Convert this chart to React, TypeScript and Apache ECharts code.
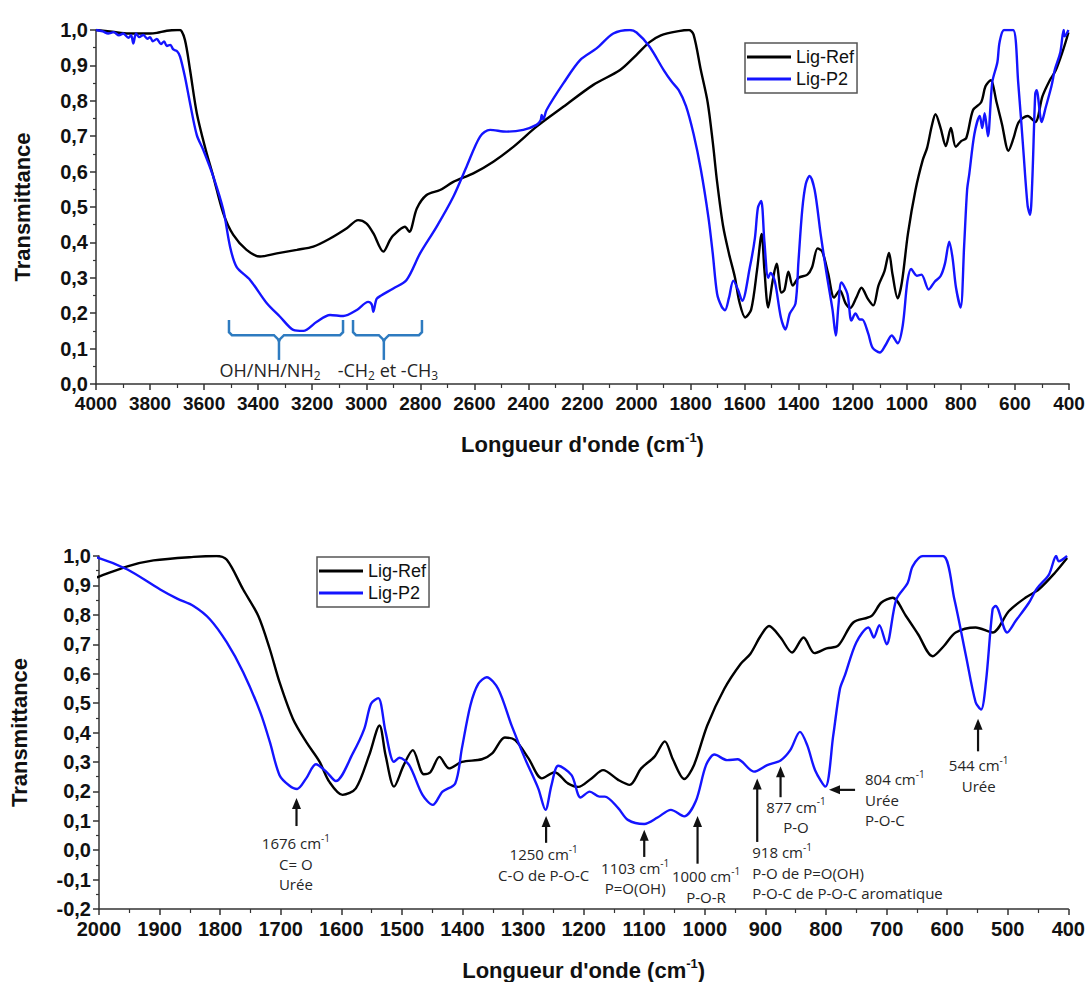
import React, { useEffect, useRef } from 'react';
import * as echarts from 'echarts';

const SERIES_NAMES = ['Lig-Ref', 'Lig-P2'];
const SERIES_COLORS = ['#000000', '#1414ff'];

const refWavenumbers = [4000, 3940, 3880, 3837, 3800, 3775, 3738, 3700, 3689, 3671, 3652, 3627, 3597, 3566, 3529, 3492, 3443, 3393, 3331, 3257, 3196, 3134, 3072, 3030, 3000, 2974, 2937, 2912, 2900, 2857, 2841, 2813, 2777, 2727, 2678, 2604, 2530, 2456, 2370, 2271, 2160, 2061, 2000, 1953, 1910, 1844, 1806, 1789, 1762, 1737, 1718, 1702, 1680, 1658, 1636, 1620, 1598, 1576, 1554, 1537, 1527, 1513, 1497, 1482, 1464, 1453, 1438, 1422, 1401, 1368, 1351, 1330, 1313, 1291, 1269, 1248, 1226, 1209, 1187, 1168, 1143, 1124, 1105, 1083, 1066, 1053, 1034, 1018, 996, 968, 941, 925, 908, 894, 875, 856, 837, 819, 799, 780, 755, 725, 709, 690, 668, 648, 624, 605, 586, 553, 525, 498, 471, 449, 422, 402];
const refValues = [1.0, 0.995, 0.99, 0.99, 0.99, 0.992, 0.998, 1.0, 1.0, 0.972, 0.887, 0.765, 0.67, 0.586, 0.482, 0.421, 0.379, 0.36, 0.369, 0.379, 0.388, 0.411, 0.44, 0.463, 0.454, 0.426, 0.374, 0.407, 0.42, 0.444, 0.43, 0.496, 0.534, 0.548, 0.571, 0.595, 0.628, 0.67, 0.727, 0.783, 0.845, 0.887, 0.93, 0.965, 0.985, 0.997, 1.0, 0.987, 0.886, 0.796, 0.683, 0.571, 0.447, 0.368, 0.301, 0.233, 0.188, 0.21, 0.323, 0.424, 0.323, 0.216, 0.289, 0.34, 0.258, 0.265, 0.317, 0.278, 0.3, 0.309, 0.329, 0.383, 0.374, 0.312, 0.244, 0.265, 0.227, 0.215, 0.244, 0.272, 0.239, 0.222, 0.278, 0.318, 0.37, 0.31, 0.242, 0.289, 0.424, 0.548, 0.633, 0.667, 0.728, 0.762, 0.723, 0.672, 0.723, 0.67, 0.686, 0.695, 0.774, 0.796, 0.841, 0.858, 0.796, 0.734, 0.659, 0.695, 0.74, 0.757, 0.74, 0.813, 0.858, 0.886, 0.943, 0.993];

const p2Wavenumbers = [4000, 3975, 3955, 3935, 3915, 3899, 3880, 3870, 3862, 3852, 3840, 3825, 3810, 3800, 3790, 3775, 3760, 3748, 3738, 3725, 3714, 3700, 3689, 3671, 3652, 3627, 3603, 3566, 3529, 3504, 3480, 3430, 3368, 3319, 3270, 3233, 3183, 3134, 3085, 3035, 2993, 2980, 2974, 2962, 2945, 2900, 2851, 2801, 2740, 2678, 2629, 2579, 2542, 2481, 2419, 2370, 2355, 2351, 2345, 2333, 2271, 2209, 2148, 2086, 2025, 2000, 1953, 1899, 1871, 1844, 1817, 1789, 1762, 1734, 1718, 1702, 1686, 1673, 1658, 1642, 1625, 1609, 1581, 1562, 1551, 1539, 1527, 1513, 1504, 1488, 1466, 1449, 1433, 1412, 1401, 1387, 1374, 1360, 1341, 1319, 1297, 1275, 1263, 1253, 1242, 1220, 1205, 1190, 1174, 1165, 1143, 1127, 1100, 1078, 1056, 1034, 1015, 998, 984, 963, 946, 919, 897, 875, 859, 843, 831, 818, 801, 788, 777, 769, 750, 730, 721, 712, 700, 684, 665, 657, 640, 607, 588, 569, 553, 544, 536, 525, 520, 501, 487, 465, 452, 432, 420, 416, 402];
const p2Values = [1.0, 0.996, 0.99, 0.994, 0.985, 0.99, 0.978, 0.985, 0.962, 0.99, 0.98, 0.986, 0.975, 0.98, 0.968, 0.975, 0.96, 0.968, 0.955, 0.958, 0.945, 0.94, 0.925, 0.868, 0.793, 0.703, 0.661, 0.586, 0.492, 0.388, 0.331, 0.294, 0.228, 0.19, 0.153, 0.15, 0.176, 0.195, 0.192, 0.209, 0.232, 0.225, 0.204, 0.24, 0.25, 0.27, 0.294, 0.369, 0.444, 0.529, 0.614, 0.699, 0.718, 0.713, 0.718, 0.732, 0.745, 0.76, 0.748, 0.774, 0.849, 0.915, 0.948, 0.99, 1.0, 0.993, 0.954, 0.886, 0.855, 0.83, 0.785, 0.706, 0.605, 0.47, 0.368, 0.255, 0.22, 0.208, 0.244, 0.292, 0.267, 0.235, 0.329, 0.413, 0.498, 0.517, 0.402, 0.3, 0.314, 0.289, 0.188, 0.154, 0.199, 0.227, 0.346, 0.492, 0.565, 0.588, 0.548, 0.424, 0.312, 0.21, 0.137, 0.222, 0.287, 0.255, 0.179, 0.199, 0.182, 0.182, 0.143, 0.103, 0.089, 0.111, 0.137, 0.115, 0.166, 0.289, 0.325, 0.306, 0.309, 0.267, 0.289, 0.305, 0.34, 0.402, 0.357, 0.272, 0.216, 0.39, 0.548, 0.593, 0.706, 0.757, 0.723, 0.765, 0.7, 0.852, 0.909, 0.965, 1.0, 1.0, 0.852, 0.661, 0.503, 0.478, 0.571, 0.819, 0.83, 0.74, 0.779, 0.841, 0.889, 0.937, 1.0, 0.982, 1.0];

// Bottom-panel peak annotations (wavenumber, arrow tip/tail transmittance, label anchor)
const arrowNotes = [
  { x: 1674, tip: 0.177, tail: 0.082, lx: 1675, ly: 0.058, align: 'center', lines: ['1676 cm{s|-1}', 'C= O', 'Urée'] },
  { x: 1262, tip: 0.116, tail: 0.025, lx: 1266, ly: 0.021, align: 'center', lines: ['1250 cm{s|-1}', 'C-O de P-O-C'] },
  { x: 1100, tip: 0.069, tail: -0.023, lx: 1115, ly: -0.025, align: 'center', lines: ['1103 cm{s|-1}', 'P=O(OH)'] },
  { x: 1012, tip: 0.116, tail: -0.046, lx: 998, ly: -0.053, align: 'center', lines: ['1000 cm{s|-1}', 'P-O-R'] },
  { x: 913.5, tip: 0.244, tail: 0.028, lx: 921.7, ly: 0.028, align: 'left', lines: ['918 cm{s|-1}', 'P-O de P=O(OH)', 'P-O-C de P-O-C aromatique'] },
  { x: 875, tip: 0.285, tail: 0.18, lx: 849.5, ly: 0.183, align: 'center', lines: ['877 cm{s|-1}', 'P-O'] },
  { x: 549, tip: 0.447, tail: 0.336, lx: 548, ly: 0.323, align: 'center', lines: ['544 cm{s|-1}', 'Urée'] },
];
const sideNote = { tipX: 795, tailX: 752, y: 0.205, lx: 735.6, ly: 0.276, lines: ['804 cm{s|-1}', 'Urée', 'P-O-C'] };

// Top-panel bracket annotations
const brackets = [
  { x1: 3508, x2: 3086, xc: 3323, label: 'OH/NH/NH{s|2}', lx: 3356 },
  { x1: 3049, x2: 2794, xc: 2935, label: '-CH{s|2} et -CH{s|3}', lx: 2920 },
];
const bracketY = { top: 0.181, mid: 0.138, bottom: 0.068, label: 0.04 };

const AXIS_FONT = 'Arial, "Liberation Sans", sans-serif';
const NOTE_FONT = '"Open Sans", "Noto Sans", sans-serif';

const fmtY = (v: number) => v.toFixed(1).replace('.', ',');
const fmtX = (v: number) => String(Math.round(v));

function makeXAxis(gridIndex: number, min: number, max: number, interval: number, labelSize: number, gap: number) {
  return {
    type: 'value', gridIndex, min, max, interval, inverse: true,
    name: "{a|Longueur d'onde (cm}{s|-1}{a|)}",
    nameLocation: 'middle', nameGap: gap,
    nameTextStyle: {
      rich: {
        a: { fontSize: 22, fontWeight: 'bold', fontFamily: AXIS_FONT, color: '#111', lineHeight: 26 },
        s: { fontSize: 13, fontWeight: 'bold', fontFamily: AXIS_FONT, color: '#111', verticalAlign: 'top', lineHeight: 14 },
      },
    },
    axisLine: { show: true, onZero: false, lineStyle: { color: '#333', width: 1.5 } },
    axisTick: { show: true, length: 6, lineStyle: { color: '#333', width: 1.5 } },
    minorTick: { show: true, splitNumber: 2, length: 4, lineStyle: { color: '#333', width: 1.2 } },
    axisLabel: { fontSize: labelSize, fontWeight: 'bold', fontFamily: AXIS_FONT, color: '#111', margin: 10, formatter: fmtX },
    splitLine: { show: false },
  };
}

function makeYAxis(gridIndex: number, min: number, gap: number) {
  return {
    type: 'value', gridIndex, min, max: 1, interval: 0.1,
    name: 'Transmittance', nameLocation: 'middle', nameGap: gap,
    nameTextStyle: { fontSize: 22, fontWeight: 'bold', fontFamily: AXIS_FONT, color: '#111' },
    axisLine: { show: true, onZero: false, lineStyle: { color: '#333', width: 1.5 } },
    axisTick: { show: true, length: 6, lineStyle: { color: '#333', width: 1.5 } },
    minorTick: { show: true, splitNumber: 2, length: 3, lineStyle: { color: '#333', width: 1.2 } },
    axisLabel: { fontSize: 20, fontWeight: 'bold', fontFamily: AXIS_FONT, color: '#111', margin: 8, formatter: fmtY },
    splitLine: { show: false },
  };
}

function makeLegend(left: number, top: number) {
  return {
    data: SERIES_NAMES, orient: 'vertical', left, top,
    itemWidth: 44, itemHeight: 3, itemGap: 4, icon: 'rect',
    padding: [5, 3, 5, 2], borderColor: '#555', borderWidth: 1.5,
    textStyle: { fontSize: 18, fontFamily: AXIS_FONT, color: '#111' },
    selectedMode: false,
  };
}

export default function App() {
  const ref = useRef<HTMLDivElement>(null);
  useEffect(() => {
    document.body.style.margin = '0';
    const chart = echarts.init(ref.current!, null, { renderer: 'svg' });
    const refData = refWavenumbers.map((w, i) => [w, refValues[i]]);
    const p2Data = p2Wavenumbers.map((w, i) => [w, p2Values[i]]);
    const mkSeries = (name: string, data: number[][], color: string, g: number) => ({
      type: 'line', name, data, xAxisIndex: g, yAxisIndex: g,
      showSymbol: false, symbol: 'none', smooth: 0.3, clip: true,
      lineStyle: { color, width: 2.4 }, itemStyle: { color },
    });
    chart.setOption({
      animation: false,
      textStyle: { fontFamily: AXIS_FONT },
      grid: [
        { left: 96, right: 19, top: 30, height: 354 },
        { left: 95, right: 19, top: 556, height: 355 },
      ],
      xAxis: [makeXAxis(0, 400, 4000, 200, 19, 47), makeXAxis(1, 400, 2000, 100, 20, 48)],
      yAxis: [makeYAxis(0, 0, 63), makeYAxis(1, -0.2, 69)],
      legend: [makeLegend(745, 43), makeLegend(317, 557)],
      series: [
        mkSeries(SERIES_NAMES[0], refData, SERIES_COLORS[0], 0),
        mkSeries(SERIES_NAMES[1], p2Data, SERIES_COLORS[1], 0),
        mkSeries(SERIES_NAMES[0], refData, SERIES_COLORS[0], 1),
        mkSeries(SERIES_NAMES[1], p2Data, SERIES_COLORS[1], 1),
      ],
    });

    const px = (g: number, x: number, y: number) => chart.convertToPixel({ gridIndex: g }, [x, y]) as number[];
    const els: any[] = [];
    const noteRich = {
      s: { fontSize: 10, fontFamily: NOTE_FONT, fill: '#262626', verticalAlign: 'top', lineHeight: 10 },
    };
    const arrowHead = (tx: number, ty: number, dir: 'up' | 'left') => {
      const L = 11, W = 4.5;
      const pts = dir === 'up'
        ? [[tx, ty], [tx - W, ty + L], [tx + W, ty + L]]
        : [[tx, ty], [tx + L, ty - W], [tx + L, ty + W]];
      return { type: 'polygon', shape: { points: pts }, style: { fill: '#111' }, silent: true };
    };
    arrowNotes.forEach((n) => {
      const [ax, tipY] = px(1, n.x, n.tip);
      const [, tailY] = px(1, n.x, n.tail);
      els.push({ type: 'line', shape: { x1: ax, y1: tailY, x2: ax, y2: tipY + 8 }, style: { stroke: '#111', lineWidth: 2.2 }, silent: true });
      els.push(arrowHead(ax, tipY, 'up'));
      const [lx, ly] = px(1, n.lx, n.ly);
      els.push({
        type: 'text', x: lx, y: ly, silent: true,
        style: {
          text: n.lines.join('\n'), fontSize: 15, fontFamily: NOTE_FONT, fill: '#262626',
          align: n.align, verticalAlign: 'top', lineHeight: 20.5, rich: noteRich,
        },
      });
    });
    {
      const [tipX, yy] = px(1, sideNote.tipX, sideNote.y);
      const [tailX] = px(1, sideNote.tailX, sideNote.y);
      els.push({ type: 'line', shape: { x1: tailX, y1: yy, x2: tipX + 8, y2: yy }, style: { stroke: '#111', lineWidth: 2.2 }, silent: true });
      els.push(arrowHead(tipX, yy, 'left'));
      const [lx, ly] = px(1, sideNote.lx, sideNote.ly);
      els.push({
        type: 'text', x: lx, y: ly, silent: true,
        style: {
          text: sideNote.lines.join('\n'), fontSize: 15, fontFamily: NOTE_FONT, fill: '#262626',
          align: 'left', verticalAlign: 'top', lineHeight: 20.5, rich: noteRich,
        },
      });
    }
    brackets.forEach((b) => {
      const [X1, YT] = px(0, b.x1, bracketY.top);
      const [X2, YH] = px(0, b.x2, bracketY.mid);
      const [XC, YB] = px(0, b.xc, bracketY.bottom);
      const stroke = '#2e7bc0';
      els.push({
        type: 'polyline', silent: true,
        shape: { points: [[X1, YT], [X1, YH - 3], [X1 + 3, YH], [XC - 5, YH], [XC - 1, YH + 4], [XC, YH + 6]] },
        style: { stroke, lineWidth: 2.5, fill: 'none' },
      });
      els.push({
        type: 'polyline', silent: true,
        shape: { points: [[X2, YT], [X2, YH - 3], [X2 - 3, YH], [XC + 5, YH], [XC + 1, YH + 4], [XC, YH + 6]] },
        style: { stroke, lineWidth: 2.5, fill: 'none' },
      });
      els.push({ type: 'line', silent: true, shape: { x1: XC, y1: YH + 4, x2: XC, y2: YB }, style: { stroke, lineWidth: 2.5 } });
      const [lx, ly] = px(0, b.lx, bracketY.label);
      els.push({
        type: 'text', x: lx, y: ly, silent: true,
        style: {
          text: b.label, fontSize: 18, fontFamily: NOTE_FONT, fill: '#262626',
          align: 'center', verticalAlign: 'middle', lineHeight: 24,
          rich: { s: { fontSize: 12, fontFamily: NOTE_FONT, fill: '#262626', verticalAlign: 'bottom', lineHeight: 14 } },
        },
      });
    });
    chart.setOption({ graphic: els });
    return () => chart.dispose();
  }, []);
  return <div ref={ref} style={{ width: 1088, height: 982 }} />;
}
